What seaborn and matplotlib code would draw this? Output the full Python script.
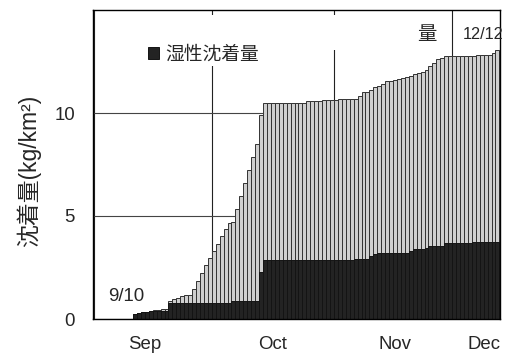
import matplotlib
matplotlib.use("Agg")
import matplotlib.pyplot as plt
from matplotlib.patches import Rectangle
import pandas as pd
import seaborn as sns

# Days counted from September 1 (Sep 11 -> 10 ... Dec 12 -> 102)
day = list(range(10, 103))

# Cumulative total deposition (kg/km2), one value per day
total = [
    0.26, 0.29, 0.32, 0.34, 0.37, 0.44, 0.44, 0.47, 0.47, 0.89,
    0.95, 1.00, 1.11, 1.17, 1.17, 1.48, 1.86, 2.24, 2.60, 2.94,
    3.28, 3.64, 4.02, 4.36, 4.68, 4.71, 5.36, 5.99, 6.62, 7.25,
    7.88, 8.50, 9.92, 10.48, 10.48, 10.48, 10.48, 10.48, 10.48, 10.48,
    10.48, 10.48, 10.48, 10.48, 10.56, 10.56, 10.56, 10.56, 10.64, 10.64,
    10.64, 10.64, 10.68, 10.68, 10.68, 10.68, 10.68, 10.82, 11.00, 11.00,
    11.11, 11.24, 11.31, 11.40, 11.56, 11.56, 11.61, 11.63, 11.68, 11.74,
    11.81, 11.88, 11.93, 11.99, 12.08, 12.27, 12.45, 12.61, 12.69, 12.77,
    12.77, 12.77, 12.77, 12.77, 12.77, 12.77, 12.77, 12.82, 12.82, 12.82,
    12.82, 12.90, 13.05,
]

# Cumulative wet deposition (kg/km2)
wet = [
    0.26, 0.29, 0.32, 0.34, 0.37, 0.37, 0.37, 0.37, 0.37, 0.76,
    0.76, 0.76, 0.76, 0.79, 0.79, 0.79, 0.79, 0.79, 0.79, 0.79,
    0.79, 0.79, 0.79, 0.79, 0.79, 0.86, 0.86, 0.86, 0.86, 0.86,
    0.86, 0.86, 2.30, 2.86, 2.86, 2.86, 2.86, 2.86, 2.86, 2.86,
    2.86, 2.86, 2.86, 2.86, 2.86, 2.86, 2.86, 2.86, 2.86, 2.86,
    2.86, 2.86, 2.86, 2.86, 2.86, 2.86, 2.92, 2.92, 2.92, 2.92,
    3.04, 3.15, 3.21, 3.21, 3.21, 3.21, 3.21, 3.21, 3.21, 3.21,
    3.31, 3.38, 3.38, 3.38, 3.44, 3.55, 3.55, 3.55, 3.55, 3.67,
    3.67, 3.67, 3.67, 3.67, 3.67, 3.67, 3.73, 3.73, 3.73, 3.73,
    3.73, 3.73, 3.73,
]

months = ["Sep", "Oct", "Nov", "Dec"]
month_label_pos = [12.6, 44.8, 75.9, 98.5]
month_bounds = [-0.5, 29.5, 60.5, 90.5]

sns.set_style("white")
plt.rcParams["font.family"] = ["Liberation Sans", "Noto Sans CJK JP"]

df = pd.DataFrame({"day": day, "total": total, "wet": wet})

fig = plt.figure(figsize=(5.14, 3.56), dpi=100)
ax = fig.add_axes([93 / 514, 37 / 356, 407 / 514, 309 / 356])
ax.set_axisbelow(True)

sns.barplot(data=df, x="day", y="total", native_scale=True, width=1.0,
            color="#cfcfcf", saturation=1, edgecolor="#333333",
            linewidth=0.7, errorbar=None, ax=ax)
sns.barplot(data=df, x="day", y="wet", native_scale=True, width=1.0,
            color="#232323", saturation=1, edgecolor="#141414",
            linewidth=0.7, errorbar=None, ax=ax, label="湿性沈着量")

ax.set_xlim(-0.65, 102.65)
ax.set_ylim(0, 15)
ax.set_yticks([0, 5, 10])
ax.set_yticklabels(["0", "5", "10"])
ax.set_xticks(month_label_pos)
ax.set_xticklabels(months)
ax.set_xticks(month_bounds, minor=True)
ax.tick_params(axis="x", which="major", length=0, pad=12, labelsize=13.4)
ax.tick_params(axis="x", which="minor", length=5, width=0.8,
               direction="out", color="black")
ax.tick_params(axis="y", length=0, pad=13, labelsize=13.4)

ax.grid(False)
ax.xaxis.grid(True, which="minor", color="#222222", lw=0.8)
ax.yaxis.grid(True, which="major", color="#444444", lw=0.8)

for s in ax.spines.values():
    s.set_visible(True)
    s.set_color("black")
    s.set_linewidth(1.0)

ax.set_xlabel("")
ax.set_ylabel("沈着量(kg/km²)", fontsize=16.5)
ax.yaxis.set_label_coords(-0.127, 0.479)

# White panels behind the legend area
ax.add_patch(Rectangle((0.115, 0.871), 0.664, 0.113, transform=ax.transAxes,
                       facecolor="white", edgecolor="none", zorder=0.7))
ax.add_patch(Rectangle((0.115, 0.819), 0.31, 0.165, transform=ax.transAxes,
                       facecolor="white", edgecolor="none", zorder=0.7))

ax.legend(loc="center left", bbox_to_anchor=(0.135, 0.854), frameon=False,
          fontsize=13.5, handlelength=0.6, handleheight=0.6,
          handletextpad=0.3, borderpad=0, borderaxespad=0)

ax.text(0.820, 0.919, "量", transform=ax.transAxes, fontsize=14,
        ha="center", va="center")
ax.text(0.958, 0.922, "12/12", transform=ax.transAxes, fontsize=11.7,
        ha="center", va="center")
ax.text(0.081, 0.073, "9/10", transform=ax.transAxes, fontsize=13.4,
        ha="center", va="center")

fig.savefig("out.png", dpi=100)
